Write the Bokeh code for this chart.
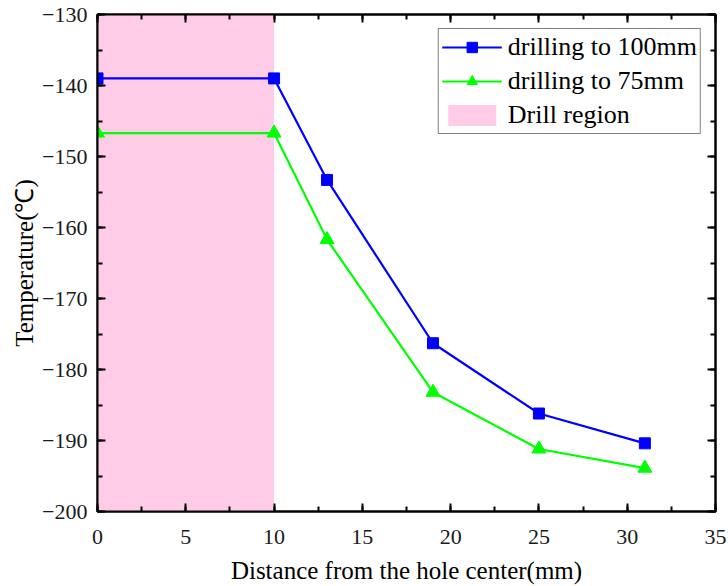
from bokeh.plotting import figure
from bokeh.models import (LinearAxis, SingleIntervalTicker, Range1d, Legend, LegendItem,
                          CustomJSTickFormatter)
from bokeh.embed import file_html
from bokeh.resources import INLINE

distance = [0, 10, 13, 19, 25, 31]
temp_100 = [-139.0, -139.0, -153.3, -176.3, -186.2, -190.4]
temp_75 = [-146.7, -146.7, -161.7, -183.2, -191.2, -193.9]
drill_region = [0, 10]
y_ticks = [-200, -190, -180, -170, -160, -150, -140, -130]
y_tick_labels = ["\u2212200", "\u2212190", "\u2212180", "\u2212170", "\u2212160", "\u2212150", "\u2212140", "\u2212130"]
x_ticks = [0, 5, 10, 15, 20, 25, 30, 35]

FONT = "Liberation Serif"

p = figure(width=728, height=586, output_backend="svg", toolbar_location=None,
           x_range=Range1d(0, 35), y_range=Range1d(-200, -130),
           min_border_left=97, min_border_top=14, min_border_right=13, min_border_bottom=75,
           x_axis_label="Distance from the hole center(mm)", y_axis_label="Temperature(\u2103)")
p.grid.visible = False
p.outline_line_color = "black"
p.outline_line_width = 2

region = p.quad(left=[drill_region[0]], right=[drill_region[1]], bottom=[y_ticks[0]], top=[y_ticks[-1]],
                fill_color="#FFCCE8", line_color=None)

l1 = p.line(distance, temp_100, line_color="#0000FF", line_width=2.2)
m1 = p.scatter(distance, temp_100, marker="square", size=11, fill_color="#0000FF", line_color="#0000FF")
l2 = p.line(distance, temp_75, line_color="#00FF00", line_width=2.2)
m2 = p.scatter(distance, temp_75, marker="triangle", size=14, fill_color="#00FF00", line_color="#00FF00")

def style(ax):
    ax.axis_line_width = 2
    ax.axis_line_color = "black"
    ax.major_tick_in = 8
    ax.major_tick_out = 0
    ax.minor_tick_in = 5
    ax.minor_tick_out = 0
    ax.major_tick_line_width = 2
    ax.minor_tick_line_width = 2
    ax.major_label_text_font = FONT
    ax.major_label_text_font_size = "22px"
    ax.major_label_text_color = "#1a1a1a"
    ax.axis_label_text_font = FONT
    ax.axis_label_text_font_size = "25px"
    ax.axis_label_text_font_style = "normal"
    ax.axis_label_text_color = "black"

xax = p.xaxis[0]
xax.ticker = SingleIntervalTicker(interval=5, num_minor_ticks=2)
style(xax)
xax.major_label_standoff = 18
xax.axis_label_standoff = 10
yax = p.yaxis[0]
yax.ticker = SingleIntervalTicker(interval=10, num_minor_ticks=2)
yax.major_label_overrides = {t: s for t, s in zip(y_ticks, y_tick_labels)}
style(yax)
yax.major_label_standoff = 10
yax.axis_label_standoff = 1

top = LinearAxis(ticker=SingleIntervalTicker(interval=5, num_minor_ticks=2),
                 formatter=CustomJSTickFormatter(code="return '';"))
style(top)
top.major_label_standoff = 0
p.add_layout(top, "above")
right = LinearAxis(ticker=SingleIntervalTicker(interval=10, num_minor_ticks=2),
                   formatter=CustomJSTickFormatter(code="return '';"))
style(right)
right.major_label_standoff = 0
p.add_layout(right, "right")

legend = Legend(items=[
    LegendItem(label="drilling to 100mm", renderers=[l1, m1]),
    LegendItem(label="drilling to 75mm", renderers=[l2, m2]),
    LegendItem(label="Drill region", renderers=[region]),
], location="top_right")
legend.margin = 14
legend.label_text_font = FONT
legend.label_text_font_size = "26px"
legend.label_text_color = "black"
legend.border_line_color = "black"
legend.border_line_width = 1.5
legend.glyph_width = 60
legend.glyph_height = 26
legend.label_standoff = 6
legend.label_height = 26
legend.spacing = 4
legend.padding = 3
legend.background_fill_alpha = 1
p.add_layout(legend)

open("out.html", "w").write(file_html(p, INLINE))
